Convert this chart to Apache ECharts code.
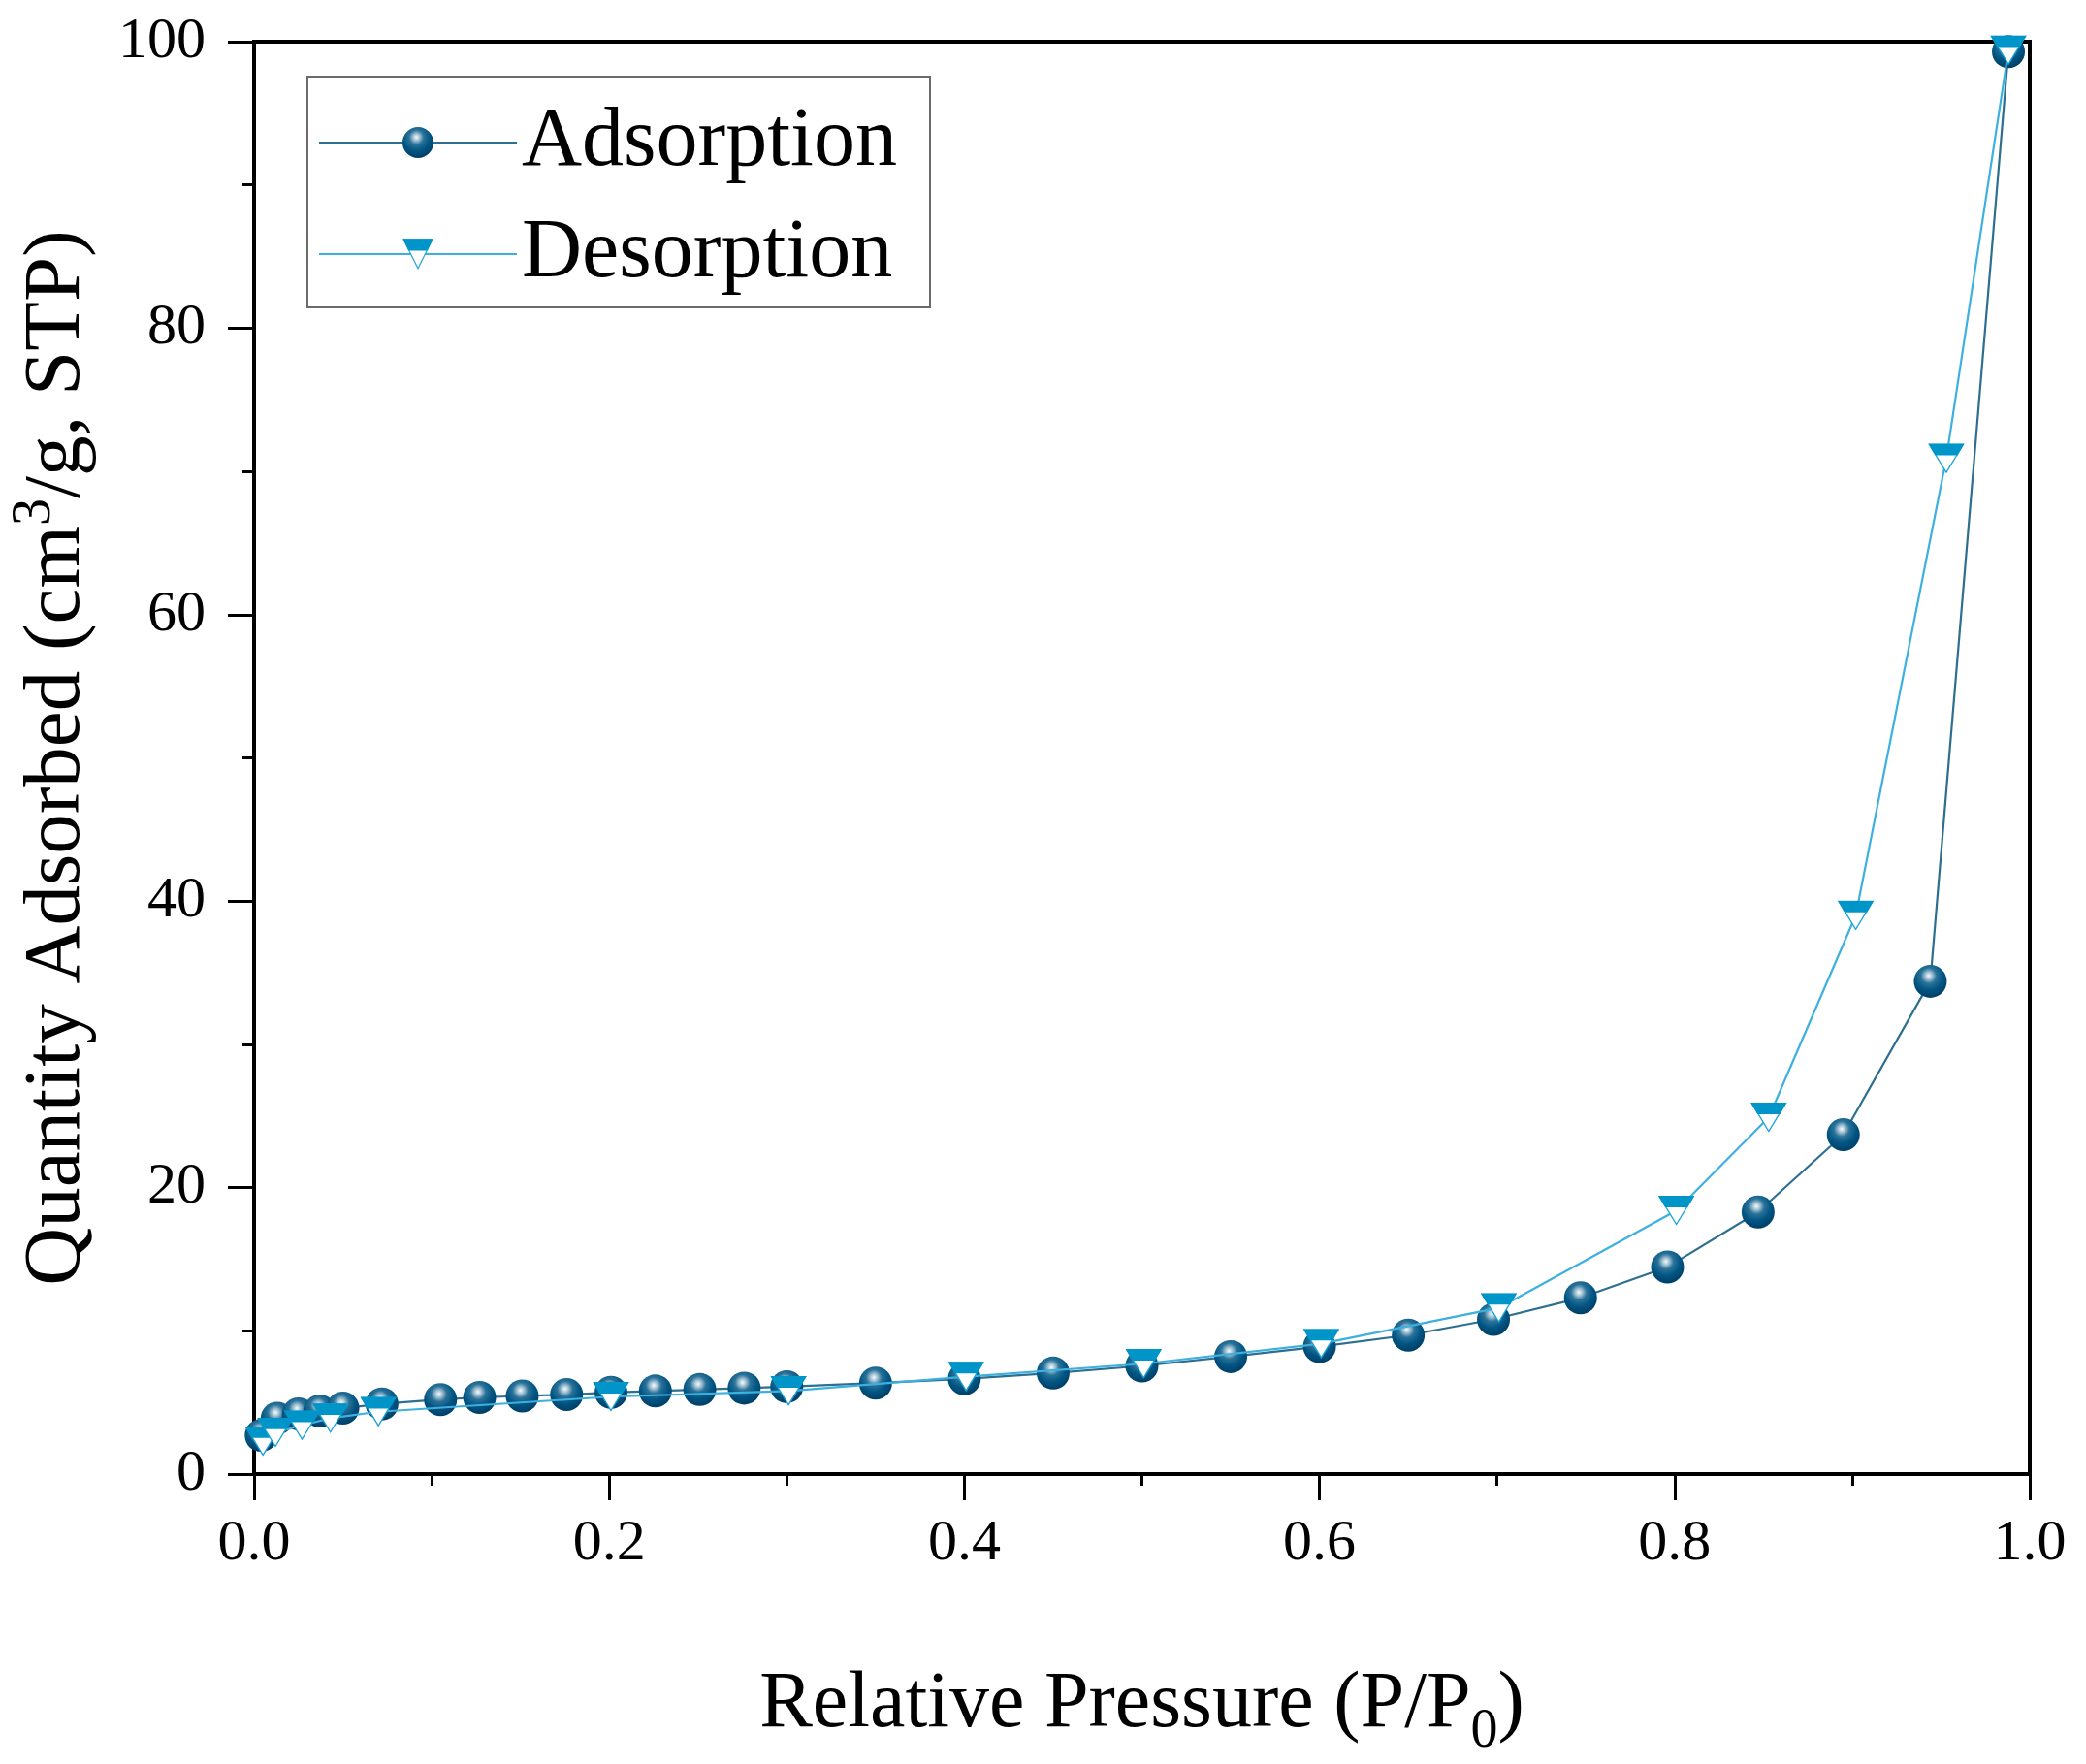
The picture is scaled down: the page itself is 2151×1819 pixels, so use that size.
<!DOCTYPE html>
<html><head><meta charset="utf-8">
<script src="https://cdn.jsdelivr.net/npm/echarts@6/dist/echarts.min.js"></script>
<style>html,body{margin:0;padding:0;background:#fff}#c{width:2151px;height:1819px}</style>
</head><body><div id="c"></div>
<script>
const adsorptionP = [0.004, 0.013, 0.025, 0.037, 0.050, 0.072, 0.105, 0.127, 0.151, 0.176, 0.201, 0.226, 0.251, 0.276, 0.300, 0.350, 0.400, 0.450, 0.500, 0.550, 0.600, 0.650, 0.698, 0.747, 0.796, 0.847, 0.895, 0.944, 0.988];
const adsorptionQ = [2.7, 3.9, 4.2, 4.4, 4.6, 4.9, 5.2, 5.35, 5.45, 5.55, 5.7, 5.8, 5.9, 6.0, 6.1, 6.35, 6.65, 7.05, 7.55, 8.2, 8.9, 9.7, 10.8, 12.3, 14.45, 18.3, 23.7, 34.4, 99.3];
const desorptionP = [0.005, 0.012, 0.027, 0.043, 0.070, 0.201, 0.301, 0.401, 0.501, 0.601, 0.701, 0.801, 0.853, 0.902, 0.953, 0.988];
const desorptionQ = [2.3, 2.9, 3.4, 3.9, 4.35, 5.4, 5.8, 6.8, 7.7, 9.1, 11.6, 18.4, 24.9, 39.0, 70.9, 99.4];
const seriesNames = ['Adsorption', 'Desorption'];
const xTitle = 'Relative Pressure (P/P{sub|0})';
const yTitle = 'Quantity Adsorbed (cm{sup|3}/g, STP)';

const FONT = '"Liberation Serif", "DejaVu Serif", serif';
const triSvg = '<svg xmlns="http://www.w3.org/2000/svg" width="80" height="64" viewBox="0 0 40 32">' +
  '<polygon points="1.5,1 38.5,1 20,30.8" fill="#ffffff" stroke="#1aa3d6" stroke-width="1.4" stroke-linejoin="miter"/>' +
  '<polygon points="0.5,0.3 39.5,0.3 32.2,12.6 7.8,12.6" fill="#0095c9"/></svg>';
const triSymbol = 'image://data:image/svg+xml;charset=utf-8,' + encodeURIComponent(triSvg);
const sphere = {type:'radial', x:0.45, y:0.33, r:0.72, colorStops:[
  {offset:0, color:'#f6f9fb'}, {offset:0.14, color:'#a8c6d6'}, {offset:0.33, color:'#2a7299'},
  {offset:0.62, color:'#005482'}, {offset:1, color:'#003a60'}]};

const adsData = adsorptionP.map((p, i) => [p, adsorptionQ[i]]);
const desData = desorptionP.map((p, i) => [p, desorptionQ[i]]);

const chart = echarts.init(document.getElementById('c'), null, {renderer:'canvas'});
chart.setOption({
  animation: false,
  backgroundColor: '#ffffff',
  grid: {left: 258, right: 58, top: 43, bottom: 294, show: true, borderColor: '#000', borderWidth: 4, backgroundColor: 'transparent'},
  legend: {
    data: seriesNames, orient: 'vertical', left: 317, top: 79,
    borderColor: '#6b6b6b', borderWidth: 2, padding: [18, 34, 5, 11],
    itemWidth: 204, itemHeight: 40, itemGap: 15,
    textStyle: {fontFamily: FONT, fontSize: 86, color: '#000', lineHeight: 100}
  },
  xAxis: {
    type: 'value', min: 0, max: 1, interval: 0.2,
    axisLine: {lineStyle: {color: '#000', width: 4}},
    axisTick: {length: 27, lineStyle: {color: '#000', width: 3}},
    minorTick: {show: true, splitNumber: 2, length: 12, lineStyle: {color: '#000', width: 3}},
    splitLine: {show: false},
    axisLabel: {fontFamily: FONT, fontSize: 60, color: '#000', margin: 42, formatter: v => v.toFixed(1)},
    name: xTitle, nameLocation: 'middle', nameGap: 182,
    nameTextStyle: {fontFamily: FONT, fontSize: 82, color: '#000',
      rich: {sub: {fontFamily: FONT, fontSize: 56, color: '#000', padding: [56, 0, 0, 0]}}}
  },
  yAxis: {
    type: 'value', min: 0, max: 100, interval: 20,
    axisLine: {lineStyle: {color: '#000', width: 4}},
    axisTick: {length: 27, lineStyle: {color: '#000', width: 3}},
    minorTick: {show: true, splitNumber: 2, length: 12, lineStyle: {color: '#000', width: 3}},
    splitLine: {show: false},
    axisLabel: {fontFamily: FONT, fontSize: 60, color: '#000', margin: 50},
    name: yTitle, nameLocation: 'middle', nameGap: 152,
    nameTextStyle: {fontFamily: FONT, fontSize: 83, color: '#000',
      rich: {sup: {fontFamily: FONT, fontSize: 56, color: '#000', padding: [0, 0, 46, 0]}}}
  },
  series: [
    {name: seriesNames[0], type: 'line', data: adsData, symbol: 'circle', symbolSize: 34,
     itemStyle: {color: sphere}, lineStyle: {color: '#2e6f90', width: 2.2}, z: 2},
    {name: seriesNames[1], type: 'line', data: desData, symbol: triSymbol, symbolSize: [38, 31],
     itemStyle: {color: '#0095c9'}, lineStyle: {color: '#3eb0df', width: 2.2}, z: 3}
  ]
});
</script></body></html>
